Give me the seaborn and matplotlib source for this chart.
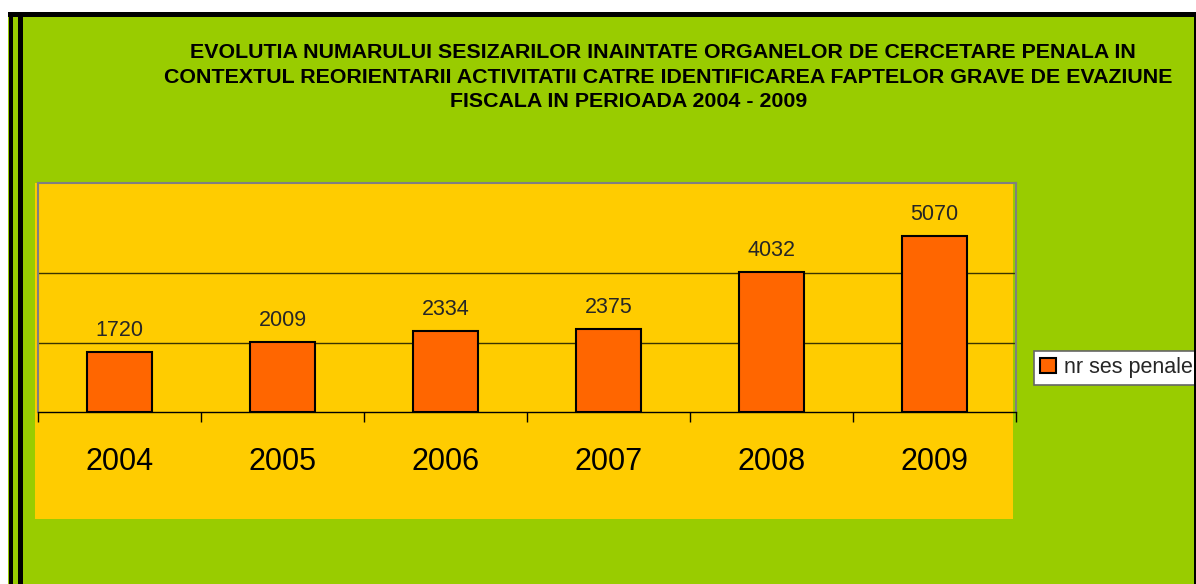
"""Bar chart: sesizari inaintate organelor de cercetare penala, 2004-2009."""

import matplotlib
matplotlib.use("Agg")
import matplotlib.pyplot as plt
import matplotlib.patches as mpatches
import seaborn as sns

years = ["2004", "2005", "2006", "2007", "2008", "2009"]
sesizari = [1720, 2009, 2334, 2375, 4032, 5070]
series_name = "nr ses penale"
title_lines = [
    "EVOLUTIA NUMARULUI SESIZARILOR INAINTATE ORGANELOR DE CERCETARE PENALA IN",
    "CONTEXTUL REORIENTARII ACTIVITATII CATRE IDENTIFICAREA FAPTELOR GRAVE DE EVAZIUNE",
    "FISCALA IN PERIOADA 2004 - 2009",
]
grid_values = [2000, 4000]

GREEN = "#99CC00"
YELLOW = "#FFCC00"
ORANGE = "#FF6600"

W, H = 1196, 584

sns.set_theme(style="white")
plt.rcParams["font.family"] = ["Liberation Sans", "DejaVu Sans"]

fig = plt.figure(figsize=(W / 100, H / 100), dpi=100, facecolor="white")


def px_rect(x0, y0, x1, y1, **kw):
    # rectangle given in pixel coords (origin top-left)
    return mpatches.Rectangle((x0 / W, 1 - y1 / H), (x1 - x0) / W, (y1 - y0) / H,
                              transform=fig.transFigure, **kw)


# chart area background + plot area background
fig.add_artist(px_rect(8, 12, W, H, facecolor=GREEN, edgecolor="none", zorder=-3))
fig.add_artist(px_rect(35, 183, 1013, 519, facecolor=YELLOW, edgecolor="none", zorder=-2))

# black frame: double line on the left, top and right edges
for x0, y0, x1, y1 in [(9, 12, 13, H), (18, 12, 23, H), (8, 12, W, 17), (1194, 12, W, H)]:
    fig.add_artist(px_rect(x0, y0, x1, y1, facecolor="black", edgecolor="none", zorder=10))

ax = fig.add_axes([38 / W, 1 - 412 / H, 978 / W, 229 / H])
ax.set_facecolor("none")

sns.barplot(x=years, y=sesizari, color=ORANGE, saturation=1, width=0.4,
            edgecolor="black", linewidth=1.5, ax=ax, zorder=3)
ax.bar_label(ax.containers[0], fmt="%d", padding=8, fontsize=15.5)

ax.set_xlim(-0.5, len(years) - 0.5)
ax.set_ylim(0, 6590)
ax.set_yticks(grid_values)
ax.set_yticklabels([])
ax.yaxis.grid(True, color="#3a3300", linewidth=1)
ax.tick_params(axis="y", length=0)

ax.set_xticks(range(len(years)))
ax.set_xticklabels(years, fontsize=22)
ax.tick_params(axis="x", which="major", length=0, pad=25, colors="black")
ax.set_xticks([i - 0.5 for i in range(len(years) + 1)], minor=True)
ax.tick_params(axis="x", which="minor", bottom=True, length=7.2, width=1, color="black",
               direction="out")
ax.set_xlabel("")
ax.set_ylabel("")

for side in ["left", "top", "right"]:
    ax.spines[side].set_color("#808080")
    ax.spines[side].set_linewidth(1.5)
ax.spines["bottom"].set_color("black")
ax.spines["bottom"].set_linewidth(1)

leg = ax.legend([ax.patches[0]], [series_name], loc="upper left",
                bbox_to_anchor=(1034 / W, 1 - 351 / H), bbox_transform=fig.transFigure,
                fontsize=15.5, frameon=True, fancybox=False, framealpha=1,
                facecolor="white", edgecolor="#666666", borderpad=0.3,
                handlelength=0.7, handleheight=0.7, handletextpad=0.4, borderaxespad=0)
leg.get_frame().set_linewidth(1.2)

# title, three centred lines as in the original
title_pos = [(663, 58), (668, 82.7), (629, 106.7)]
for line, (cx, by) in zip(title_lines, title_pos):
    fig.text(cx / W, 1 - by / H, line, ha="center", va="baseline",
             fontsize=15.4, fontweight="bold", color="black")

fig.savefig("out.png", dpi=100, facecolor=fig.get_facecolor())
